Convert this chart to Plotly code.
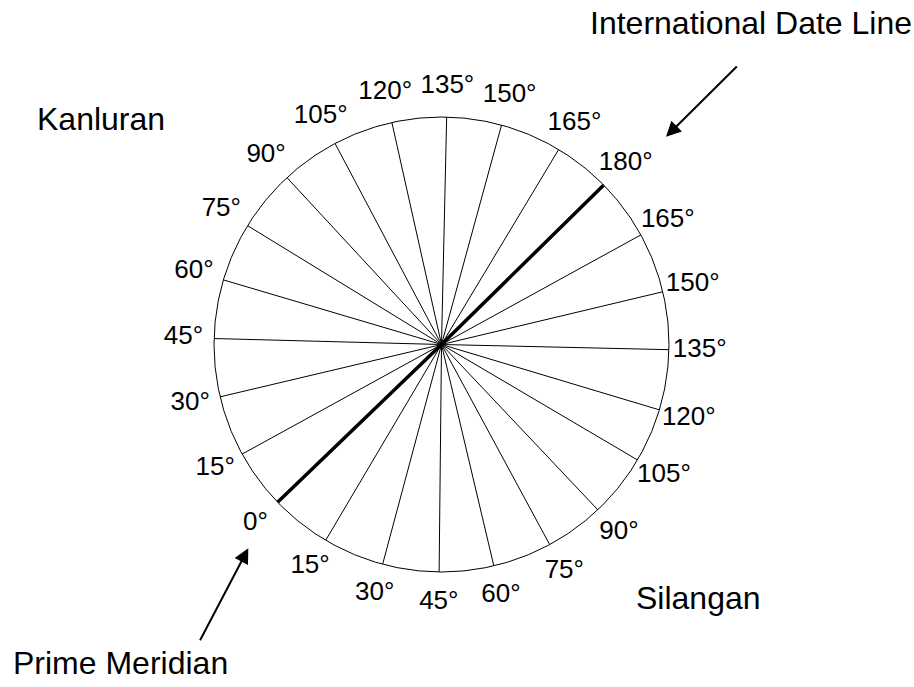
import plotly.graph_objects as go

# Meridian labels at the 24 spoke ends, going counter-clockwise from the Prime Meridian end
meridian_labels = ["0°", "15°", "30°", "45°", "60°", "75°", "90°", "105°", "120°", "135°",
                   "150°", "165°", "180°", "165°", "150°", "135°", "120°", "105°", "90°",
                   "75°", "60°", "45°", "30°", "15°"]
# Angle (degrees, counter-clockwise from east) of each spoke end
end_angles = [223.9, 239.4, 255.0, 269.4, 283.3, 298.4, 313.4, 329.5, 343.3, 358.7,
              13.4, 28.8, 44.5, 59.0, 74.7, 88.7, 102.6, 117.9, 132.8, 148.5,
              163.5, 178.5, 193.3, 208.8]
# The meridian through 0° / 180° is drawn thick
thick_pair = 0

W, H = 914, 687
cx, cy, R = 441.5, 344.5, 227.5
label_scale = 1.135  # label ring radius relative to the circle
R2 = R * label_scale

fig = go.Figure()
n = len(end_angles) // 2
for k in range(n):
    a1 = end_angles[k]
    a2 = end_angles[k + n]
    fig.add_trace(go.Scatterpolar(
        r=[1, 0, 1], theta=[a1, a1, a2], mode="lines", subplot="polar",
        line=dict(color="black", width=3.5 if k == thick_pair else 1),
        hoverinfo="skip", showlegend=False))

# Labels on a concentric, invisible polar ring just outside the circle
fig.add_trace(go.Scatterpolar(
    r=[1] * len(end_angles), theta=end_angles, text=meridian_labels,
    mode="text", textposition="middle center", cliponaxis=False, subplot="polar2",
    textfont=dict(family="Liberation Sans, Arial", size=26, color="black"),
    hoverinfo="skip", showlegend=False))

def domain(r):
    return dict(x=[(cx - r) / W, (cx + r) / W], y=[(H - cy - r) / H, (H - cy + r) / H])

fig.update_layout(
    width=W, height=H,
    margin=dict(l=0, r=0, t=0, b=0),
    paper_bgcolor="white", plot_bgcolor="white",
    showlegend=False,
    polar=dict(
        domain=domain(R),
        bgcolor="white",
        radialaxis=dict(visible=False, range=[0, 1]),
        angularaxis=dict(
            rotation=0, direction="counterclockwise",
            showline=True, linecolor="black", linewidth=1,
            showgrid=False, ticks="", showticklabels=False,
        ),
    ),
    polar2=dict(
        domain=domain(R2),
        bgcolor="rgba(0,0,0,0)",
        radialaxis=dict(visible=False, range=[0, 1]),
        angularaxis=dict(rotation=0, direction="counterclockwise", visible=False,
                         showline=False, showgrid=False),
    ),
)

def px(x):
    return x / W

def py(y):
    return 1 - y / H

big = dict(family="Liberation Sans, Arial", size=32, color="black")
texts = [
    ("International Date Line", 751, 23),
    ("Kanluran", 101, 119),
    ("Silangan", 698.5, 598),
    ("Prime Meridian", 120.5, 663),
]
for t, x, y in texts:
    fig.add_annotation(text=t, x=px(x), y=py(y), xref="paper", yref="paper",
                       showarrow=False, font=big, xanchor="center", yanchor="middle")

arrows = [((666, 136.7), (738.3, 65)), ((248.3, 548.3), (199.3, 641.7))]
for (tx, ty), (sx, sy) in arrows:
    fig.add_annotation(text="", x=px(tx), y=py(ty), xref="paper", yref="paper",
                       ax=sx - tx, ay=sy - ty, axref="pixel", ayref="pixel",
                       showarrow=True, arrowhead=2, arrowsize=1.5, arrowwidth=2,
                       arrowcolor="black", standoff=0)

fig.write_html("out.html", config={"displayModeBar": False},
               post_script="document.body.style.margin='0';document.body.style.overflow='hidden';")
